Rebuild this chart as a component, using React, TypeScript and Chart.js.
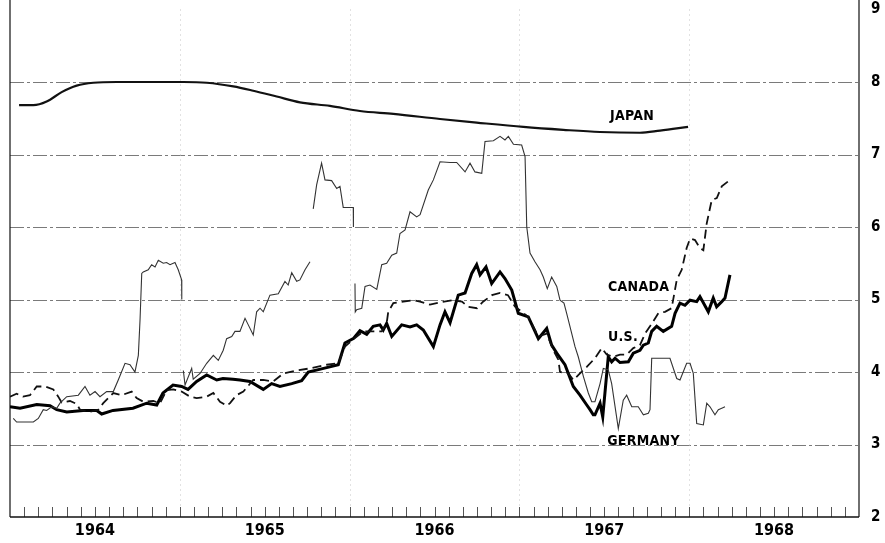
import React, { useEffect, useRef } from 'react';
import { Chart, registerables } from 'chart.js';
Chart.register(...registerables);

// x values are months counted from January 1964 (0 = Jan 1 1964, 60 = Jan 1 1969); y values are percent
const yearLabels = ['1964', '1965', '1966', '1967', '1968'];
const yearLabelMonths = [6, 18, 30, 42, 54];
const yearStartMonths = [12, 24, 36, 48];
const rateGridValues = [3, 4, 5, 6, 7, 8];

const japan: [number, number][] = [
  [0.64, 7.68], [1.65, 7.68], [2.59, 7.73], [3.65, 7.86], [4.71, 7.95], [5.89, 7.99], [7.54, 8.0],
  [12.25, 8.0], [13.9, 7.99], [15.78, 7.94], [17.19, 7.88], [18.85, 7.8], [20.49, 7.72], [22.61, 7.67],
  [24.73, 7.6], [27.09, 7.56], [30.39, 7.49], [32.98, 7.44], [36.28, 7.38], [39.1, 7.34], [41.7, 7.31],
  [44.52, 7.3], [45.94, 7.33], [47.92, 7.38],
];

const unitedStates: [number, number][] = [
  [0, 3.52], [0.71, 3.5], [1.89, 3.55], [2.83, 3.535], [3.3, 3.48], [4.01, 3.45], [5.16, 3.47], [6.13, 3.47],
  [6.48, 3.42], [7.28, 3.47], [8.69, 3.5], [9.66, 3.57], [10.37, 3.545], [10.81, 3.71], [11.52, 3.82],
  [12.13, 3.8], [12.58, 3.76], [13.19, 3.87], [13.9, 3.96], [14.61, 3.89], [15.05, 3.91], [15.76, 3.9],
  [16.25, 3.89], [16.96, 3.87], [17.9, 3.76], [18.49, 3.84], [19.08, 3.8], [19.91, 3.84], [20.61, 3.88],
  [21.08, 4.0], [22.38, 4.06], [23.2, 4.1], [23.67, 4.4], [24.26, 4.46], [24.73, 4.57], [25.21, 4.52],
  [25.67, 4.63], [26.15, 4.65], [26.38, 4.58], [26.62, 4.67], [26.98, 4.49], [27.68, 4.65], [28.27, 4.62],
  [28.74, 4.65], [29.21, 4.58], [29.92, 4.35], [30.39, 4.65], [30.74, 4.83], [31.1, 4.68], [31.68, 5.06],
  [32.16, 5.09], [32.63, 5.36], [32.98, 5.48], [33.22, 5.34], [33.64, 5.45], [34.04, 5.22], [34.63, 5.38],
  [34.98, 5.29], [35.46, 5.13], [35.92, 4.81], [36.63, 4.76], [37.34, 4.46], [37.93, 4.6], [38.28, 4.37],
  [38.64, 4.26], [39.22, 4.1], [39.81, 3.8], [40.28, 3.68], [40.76, 3.545], [40.99, 3.48], [41.22, 3.41],
  [41.34, 3.41], [41.7, 3.57], [41.89, 3.38], [42.28, 4.21], [42.52, 4.14], [42.76, 4.19], [43.11, 4.13],
  [43.7, 4.14], [44.05, 4.26], [44.52, 4.3], [44.76, 4.37], [45.11, 4.4], [45.35, 4.56], [45.7, 4.63],
  [46.17, 4.56], [46.76, 4.63], [47.0, 4.81], [47.35, 4.95], [47.7, 4.92], [48.06, 4.99], [48.53, 4.97],
  [48.76, 5.04], [49.35, 4.83], [49.7, 5.02], [49.94, 4.9], [50.3, 4.97], [50.53, 5.02], [50.88, 5.34],
];

const canada: [number, number][] = [
  [0, 3.66], [0.47, 3.7], [0.92, 3.66], [1.41, 3.68], [1.89, 3.8], [2.47, 3.8], [3.06, 3.76], [3.41, 3.66],
  [3.65, 3.58], [4.24, 3.6], [4.71, 3.56], [4.95, 3.48], [5.65, 3.45], [6.24, 3.48], [6.59, 3.57], [7.3, 3.71],
  [7.89, 3.68], [8.6, 3.73], [8.95, 3.64], [9.42, 3.59], [10.13, 3.6], [10.6, 3.57], [11.07, 3.75],
  [11.54, 3.76], [12.13, 3.73], [12.72, 3.66], [13.19, 3.64], [13.9, 3.66], [14.37, 3.71], [14.84, 3.59],
  [15.31, 3.535], [15.55, 3.57], [16.0, 3.68], [16.49, 3.73], [17.19, 3.89], [17.9, 3.89], [18.61, 3.87],
  [19.31, 3.98], [20.26, 4.02], [21.2, 4.05], [22.38, 4.1], [23.2, 4.12], [23.67, 4.35], [24.26, 4.45],
  [24.97, 4.56], [25.67, 4.56], [26.27, 4.56], [26.62, 4.67], [26.73, 4.83], [27.09, 4.95], [27.79, 4.97],
  [28.5, 4.99], [28.98, 4.97], [29.68, 4.93], [30.39, 4.96], [31.31, 4.99], [31.94, 4.97], [32.37, 4.9],
  [33.0, 4.88], [33.43, 4.97], [34.06, 5.06], [34.63, 5.09], [35.19, 5.06], [35.69, 4.9], [36.18, 4.83],
  [36.61, 4.76], [37.34, 4.49], [37.93, 4.53], [38.4, 4.3], [38.75, 4.17], [38.87, 4.0], [39.46, 3.98],
  [39.81, 3.89], [40.28, 3.98], [40.76, 4.07], [41.34, 4.19], [41.82, 4.33], [42.17, 4.24], [42.64, 4.21],
  [43.11, 4.24], [43.58, 4.24], [44.05, 4.33], [44.52, 4.37], [44.88, 4.53], [45.23, 4.63], [45.46, 4.7],
  [45.82, 4.81], [46.29, 4.83], [46.76, 4.88], [47.12, 5.27], [47.47, 5.41], [47.82, 5.71], [48.06, 5.84],
  [48.41, 5.82], [48.76, 5.71], [49.0, 5.68], [49.24, 6.05], [49.59, 6.37], [49.95, 6.4], [50.3, 6.56],
  [50.88, 6.65],
];

// null marks a break in the German series
const germany: [number, number | null][] = [
  [0.23, 3.36], [0.47, 3.31], [1.65, 3.31], [2.0, 3.36], [2.35, 3.48], [2.59, 3.47], [2.95, 3.52], [3.3, 3.5],
  [3.53, 3.57], [4.01, 3.66], [4.83, 3.68], [5.3, 3.8], [5.65, 3.68], [6.01, 3.73], [6.36, 3.66], [6.83, 3.73],
  [7.3, 3.73], [7.65, 3.89], [8.13, 4.12], [8.48, 4.1], [8.83, 4.0], [9.07, 4.23], [9.19, 4.72], [9.31, 5.36],
  [9.42, 5.38], [9.77, 5.41], [10.01, 5.48], [10.25, 5.45], [10.48, 5.54], [10.83, 5.5], [11.07, 5.51],
  [11.31, 5.48], [11.66, 5.51], [11.89, 5.41], [12.13, 5.27], [12.14, 5.0],
  [12.2, null],
  [12.25, 4.02], [12.37, 3.82], [12.84, 4.05], [12.95, 3.9], [13.43, 3.98], [13.9, 4.12], [14.37, 4.23],
  [14.72, 4.16], [15.07, 4.3], [15.31, 4.46], [15.67, 4.49], [15.9, 4.56], [16.25, 4.56], [16.61, 4.74],
  [16.84, 4.65], [17.19, 4.51], [17.43, 4.83], [17.67, 4.88], [17.9, 4.83], [18.37, 5.06], [18.96, 5.08],
  [19.43, 5.25], [19.66, 5.2], [19.91, 5.37], [20.26, 5.25], [20.49, 5.27], [20.85, 5.41], [21.2, 5.52],
  [21.3, null],
  [21.43, 6.25], [21.67, 6.58], [22.02, 6.88], [22.26, 6.65], [22.73, 6.64], [23.09, 6.53], [23.32, 6.56],
  [23.55, 6.27], [24.26, 6.27], [24.27, 6.0],
  [24.33, null],
  [24.38, 5.22], [24.4, 4.83], [24.5, 4.86], [24.86, 4.88], [25.09, 5.18], [25.44, 5.2], [25.92, 5.14],
  [26.27, 5.48], [26.62, 5.5], [26.98, 5.61], [27.33, 5.64], [27.56, 5.91], [27.92, 5.96], [28.27, 6.21],
  [28.74, 6.14], [28.98, 6.17], [29.56, 6.51], [29.92, 6.65], [30.39, 6.9], [31.1, 6.89], [31.57, 6.89],
  [32.16, 6.76], [32.51, 6.88], [32.86, 6.76], [33.34, 6.74], [33.57, 7.18], [34.16, 7.19], [34.63, 7.25],
  [34.98, 7.2], [35.22, 7.25], [35.58, 7.14], [36.16, 7.13], [36.4, 6.97], [36.52, 6.0], [36.75, 5.64],
  [37.1, 5.52], [37.46, 5.41], [37.69, 5.31], [37.97, 5.15], [38.28, 5.31], [38.64, 5.18], [38.87, 4.99],
  [39.15, 4.95], [39.34, 4.81], [39.7, 4.53], [39.93, 4.35], [40.16, 4.21], [40.52, 3.94], [40.87, 3.71],
  [41.11, 3.59], [41.34, 3.59], [41.7, 3.84], [41.93, 4.05], [42.28, 4.03], [42.52, 3.84], [42.99, 3.22],
  [43.34, 3.61], [43.58, 3.68], [43.94, 3.52], [44.4, 3.52], [44.76, 3.41], [45.11, 3.43], [45.23, 3.48],
  [45.35, 4.19], [46.64, 4.19], [47.12, 3.91], [47.35, 3.89], [47.82, 4.12], [48.06, 4.12], [48.29, 3.98],
  [48.53, 3.29], [49.0, 3.27], [49.24, 3.57], [49.47, 3.52], [49.82, 3.41], [50.06, 3.48], [50.3, 3.5],
  [50.53, 3.52],
];

const seriesNames = ['JAPAN', 'CANADA', 'U.S.', 'GERMANY'];

const toPoints = (rows: [number, number | null][]) => rows.map(([m, v]) => ({ x: m, y: v }));

const LABEL_FONT = 'bold 14px "DejaVu Sans Condensed", "DejaVu Sans", sans-serif';

const framePlugin = {
  id: 'frame',
  beforeDatasetsDraw(chart: any) {
    const { ctx, chartArea: a, scales } = chart;
    const xs = scales.x;
    const ys = scales.y;
    ctx.save();
    // horizontal rate grid
    ctx.strokeStyle = '#7a7a7a';
    ctx.lineWidth = 1;
    ctx.setLineDash([14, 3, 3, 3]);
    rateGridValues.forEach((v) => {
      const py = Math.round(ys.getPixelForValue(v)) + 0.5;
      ctx.beginPath();
      ctx.moveTo(a.left, py);
      ctx.lineTo(a.right, py);
      ctx.stroke();
    });
    // faint year separators
    ctx.strokeStyle = '#c4c4c4';
    ctx.setLineDash([1, 4]);
    yearStartMonths.forEach((m) => {
      const px = Math.round(xs.getPixelForValue(m)) + 0.5;
      ctx.beginPath();
      ctx.moveTo(px, a.top);
      ctx.lineTo(px, a.bottom);
      ctx.stroke();
    });
    // monthly tick marks pointing into the plot
    ctx.setLineDash([]);
    ctx.strokeStyle = '#555';
    for (let m = 1; m < 60; m++) {
      const px = Math.round(xs.getPixelForValue(m)) + 0.5;
      ctx.beginPath();
      ctx.moveTo(px, a.bottom);
      ctx.lineTo(px, a.bottom - 10);
      ctx.stroke();
    }
    // frame
    ctx.strokeStyle = '#111';
    ctx.lineWidth = 1.2;
    ctx.beginPath();
    ctx.moveTo(a.left, 0);
    ctx.lineTo(a.left, a.bottom);
    ctx.moveTo(a.right, 0);
    ctx.lineTo(a.right, a.bottom);
    ctx.stroke();
    ctx.lineWidth = 1.6;
    ctx.beginPath();
    ctx.moveTo(a.left, a.bottom);
    ctx.lineTo(a.right, a.bottom);
    ctx.stroke();
    ctx.restore();
  },
  afterDatasetsDraw(chart: any) {
    const { ctx, scales } = chart;
    const xs = scales.x;
    const ys = scales.y;
    const anchors: [number, number][] = [
      [42.4, 7.52],
      [42.26, 5.17],
      [42.26, 4.48],
      [42.2, 3.05],
    ];
    ctx.save();
    ctx.font = LABEL_FONT;
    (ctx as any).letterSpacing = '0.3px';
    ctx.fillStyle = '#000';
    ctx.textBaseline = 'middle';
    ctx.textAlign = 'left';
    seriesNames.forEach((name, i) => {
      ctx.fillText(name, xs.getPixelForValue(anchors[i][0]), ys.getPixelForValue(anchors[i][1]));
    });
    ctx.restore();
  },
};

export default function App() {
  const canvasRef = useRef<HTMLCanvasElement | null>(null);

  useEffect(() => {
    document.body.style.margin = '0';
    const canvas = canvasRef.current;
    if (!canvas) return;
    const chart = new Chart(canvas, {
      type: 'line',
      data: {
        datasets: [
          {
            label: 'JAPAN',
            data: toPoints(japan),
            borderColor: '#111',
            borderWidth: 2.2,
            pointRadius: 0,
            tension: 0.4,
            cubicInterpolationMode: 'monotone',
          },
          {
            label: 'GERMANY',
            data: toPoints(germany),
            borderColor: '#333',
            borderWidth: 1.1,
            pointRadius: 0,
            spanGaps: false,
            tension: 0,
          },
          {
            label: 'CANADA',
            data: toPoints(canada),
            borderColor: '#111',
            borderWidth: 1.8,
            borderDash: [9, 5],
            pointRadius: 0,
            tension: 0,
          },
          {
            label: 'U.S.',
            data: toPoints(unitedStates),
            borderColor: '#000',
            borderWidth: 3,
            pointRadius: 0,
            tension: 0,
          },
        ],
      } as any,
      options: {
        animation: false,
        responsive: false,
        devicePixelRatio: 1,
        parsing: false as any,
        layout: { padding: { left: 10, top: 9.5, right: 0, bottom: 0 } },
        plugins: { legend: { display: false }, tooltip: { enabled: false } },
        scales: {
          x: {
            type: 'linear',
            min: 0,
            max: 60,
            afterFit: (s: any) => {
              s.height = 26;
              s.paddingLeft = 0;
              s.paddingRight = 0;
            },
            grid: { display: false, drawTicks: false },
            border: { display: false },
            ticks: {
              stepSize: 1,
              autoSkip: false,
              maxRotation: 0,
              padding: 4,
              color: '#000',
              font: { family: '"DejaVu Sans Condensed", "DejaVu Sans", sans-serif', size: 16, weight: 'bold' },
              callback: (v: any) => {
                const i = yearLabelMonths.indexOf(Number(v));
                return i >= 0 ? yearLabels[i] : '';
              },
            },
          },
          y: {
            type: 'linear',
            position: 'right',
            min: 2,
            max: 9,
            afterFit: (s: any) => {
              s.width = 26;
              s.paddingTop = 0;
              s.paddingBottom = 0;
            },
            grid: { display: false, drawTicks: false },
            border: { display: false },
            ticks: {
              stepSize: 1,
              padding: 12,
              color: '#000',
              font: { family: '"Liberation Sans Narrow", "DejaVu Sans Condensed", sans-serif', size: 15, weight: 'bold' },
            },
          },
        },
      } as any,
      plugins: [framePlugin],
    });
    return () => chart.destroy();
  }, []);

  return (
    <div style={{ width: 885, height: 543 }}>
      <canvas ref={canvasRef} width={885} height={543} />
    </div>
  );
}
